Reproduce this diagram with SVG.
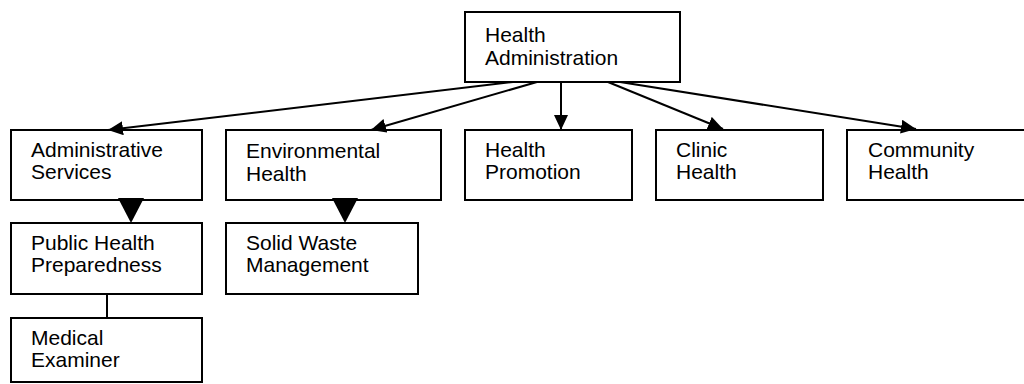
<svg xmlns="http://www.w3.org/2000/svg" width="1024" height="384" viewBox="0 0 1024 384">
<style>
.box{fill:#fff;stroke:#000;stroke-width:2}
.t{font-family:"Liberation Sans",Arial,sans-serif;font-size:21px;fill:#000}
.ln{stroke:#000;stroke-width:2;fill:none}
.ah{fill:#000}
</style>
<defs>
<marker id="arr" viewBox="0 0 15 14" refX="15" refY="7" markerWidth="15" markerHeight="14" markerUnits="userSpaceOnUse" orient="auto">
<path d="M0,0 L15,7 L0,14 Z" fill="#000"/>
</marker>
</defs>
<rect width="1024" height="384" fill="#fff"/>
<g id="n-health-admin"><rect class="box" x="465" y="12" width="215" height="70"/><text class="t" x="485" y="42">Health</text><text class="t" x="485" y="65">Administration</text></g>
<g id="n-admin-services"><rect class="box" x="11" y="130" width="191" height="70"/><text class="t" x="31" y="157">Administrative</text><text class="t" x="31" y="179">Services</text></g>
<g id="n-env-health"><rect class="box" x="226" y="130" width="215" height="70"/><text class="t" x="246" y="158">Environmental</text><text class="t" x="246" y="181">Health</text></g>
<g id="n-health-promotion"><rect class="box" x="465" y="130" width="167" height="70"/><text class="t" x="485" y="157">Health</text><text class="t" x="485" y="179">Promotion</text></g>
<g id="n-clinic-health"><rect class="box" x="656" y="130" width="167" height="70"/><text class="t" x="676" y="157">Clinic</text><text class="t" x="676" y="179">Health</text></g>
<g id="n-community-health"><rect class="box" x="847" y="130" width="215" height="70"/><text class="t" x="868" y="157">Community</text><text class="t" x="868" y="179">Health</text></g>
<g id="n-public-health-prep"><rect class="box" x="11" y="223" width="191" height="71"/><text class="t" x="31" y="250">Public Health</text><text class="t" x="31" y="272">Preparedness</text></g>
<g id="n-solid-waste"><rect class="box" x="226" y="223" width="192" height="71"/><text class="t" x="246" y="250">Solid Waste</text><text class="t" x="246" y="272">Management</text></g>
<g id="n-medical-examiner"><rect class="box" x="11" y="318" width="191" height="64"/><text class="t" x="31" y="345">Medical</text><text class="t" x="31" y="367">Examiner</text></g>
<g id="connectors">
<line class="ln" x1="513" y1="82" x2="108" y2="130" marker-end="url(#arr)"/>
<line class="ln" x1="537" y1="82" x2="371" y2="130" marker-end="url(#arr)"/>
<line class="ln" x1="561" y1="82" x2="561" y2="130" marker-end="url(#arr)"/>
<line class="ln" x1="608" y1="82" x2="723" y2="129" marker-end="url(#arr)"/>
<line class="ln" x1="620" y1="82" x2="916" y2="129" marker-end="url(#arr)"/>
<polygon class="ah" points="118,198 144,198 131,223"/>
<polygon class="ah" points="332,198 358,198 345,223"/>
<line class="ln" x1="107" y1="294" x2="107" y2="318"/>
</g>
</svg>
